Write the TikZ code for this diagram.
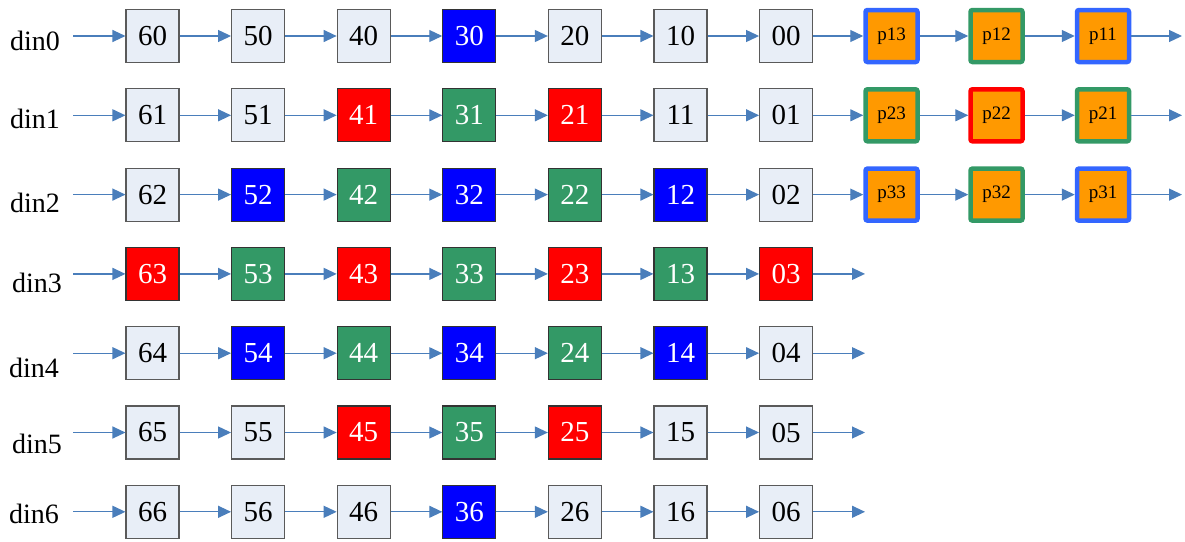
\documentclass[tikz,border=0pt]{standalone}
\usepackage{fontspec}
\setmainfont{Liberation Serif}
\usepackage{tikz}
\usetikzlibrary{arrows.meta, positioning}
\definecolor{arrblue}{RGB}{74,126,187}
\definecolor{cellbg}{RGB}{232,238,247}
\definecolor{cellfr}{RGB}{90,90,90}
\definecolor{myblue}{RGB}{0,0,255}
\definecolor{mygreen}{RGB}{51,153,102}
\definecolor{myred}{RGB}{255,0,0}
\definecolor{myorange}{RGB}{255,153,0}
\definecolor{pblue}{RGB}{51,102,255}
\tikzset{
  cellbase/.style={rectangle, minimum size=53pt, inner sep=0pt,
    line width=1.1pt, font=\fontsize{29}{31}\selectfont},
  lcell/.style={cellbase, draw=cellfr, fill=cellbg, text=black},
  bcell/.style={cellbase, draw=black!80, fill=myblue, text=white},
  gcell/.style={cellbase, draw=black!80, fill=mygreen, text=white},
  rcell/.style={cellbase, draw=black!80, fill=myred, text=white},
  pcell/.style={rectangle, minimum size=52pt, inner sep=0pt,
    line width=4.5pt, rounded corners=2pt, fill=myorange,
    draw=#1, font=\fontsize{19}{21}\selectfont},
  dinlbl/.style={anchor=base, font=\fontsize{28}{30}\selectfont},
  arr/.style={-{Triangle[length=13pt,width=12pt]}, line width=1.2pt, color=arrblue}
}
\begin{document}
\begin{tikzpicture}[x=1pt, y=-1pt]
  \useasboundingbox (0,0) rectangle (1185,541);
  % Row labels
  \node[dinlbl] (l0) at (35,50) {din0};
  \node[dinlbl] (l1) at (35,128) {din1};
  \node[dinlbl] (l2) at (35,212) {din2};
  \node[dinlbl] (l3) at (37,292) {din3};
  \node[dinlbl] (l4) at (34,377) {din4};
  \node[dinlbl] (l5) at (37,453) {din5};
  \node[dinlbl] (l6) at (34,523) {din6};
  % Cells, one row per din
  \foreach \r/\cells in {0/{lcell,lcell,lcell,bcell,lcell,lcell,lcell},
                         1/{lcell,lcell,rcell,gcell,rcell,lcell,lcell},
                         2/{lcell,bcell,gcell,bcell,gcell,bcell,lcell},
                         3/{rcell,gcell,rcell,gcell,rcell,gcell,rcell},
                         4/{lcell,bcell,gcell,bcell,gcell,bcell,lcell},
                         5/{lcell,lcell,rcell,gcell,rcell,lcell,lcell},
                         6/{lcell,lcell,lcell,bcell,lcell,lcell,lcell}}{
    \coordinate (s\r) at (73,{36+79.3*\r});
    \foreach \s [count=\i from 0] in \cells {
      \pgfmathtruncatemacro{\n}{6-\i}
      \node[\s] (c\r\i) at ({152.5+105.6*\i},{36+79.3*\r}) {\n\r};
    }
    \draw[arr] (s\r) -- (c\r0);
    \foreach \i [remember=\i as \j (initially 0)] in {1,...,6}
      \draw[arr] (c\r\j) -- (c\r\i);
  }
  % Output taps of rows din3..din6
  \foreach \r in {3,...,6}{
    \coordinate (e\r) at (865,{36+79.3*\r});
    \draw[arr] (c\r6) -- (e\r);
  }
  % Partial products
  \node[pcell=pblue]   (p13) at (891.5,36) {p13};
  \node[pcell=mygreen] (p12) at (996.5,36) {p12};
  \node[pcell=pblue]   (p11) at (1103,36) {p11};
  \node[pcell=mygreen] (p23) at (891.5,115.3) {p23};
  \node[pcell=myred]   (p22) at (996.5,115.3) {p22};
  \node[pcell=mygreen] (p21) at (1103,115.3) {p21};
  \node[pcell=pblue]   (p33) at (891.5,194.6) {p33};
  \node[pcell=mygreen] (p32) at (996.5,194.6) {p32};
  \node[pcell=pblue]   (p31) at (1103,194.6) {p31};
  \coordinate (e0) at (1182,36);
  \coordinate (e1) at (1182,115.3);
  \coordinate (e2) at (1182,194.6);
  \draw[arr] (c06) -- (p13); \draw[arr] (p13) -- (p12); \draw[arr] (p12) -- (p11); \draw[arr] (p11) -- (e0);
  \draw[arr] (c16) -- (p23); \draw[arr] (p23) -- (p22); \draw[arr] (p22) -- (p21); \draw[arr] (p21) -- (e1);
  \draw[arr] (c26) -- (p33); \draw[arr] (p33) -- (p32); \draw[arr] (p32) -- (p31); \draw[arr] (p31) -- (e2);
\end{tikzpicture}
\end{document}
